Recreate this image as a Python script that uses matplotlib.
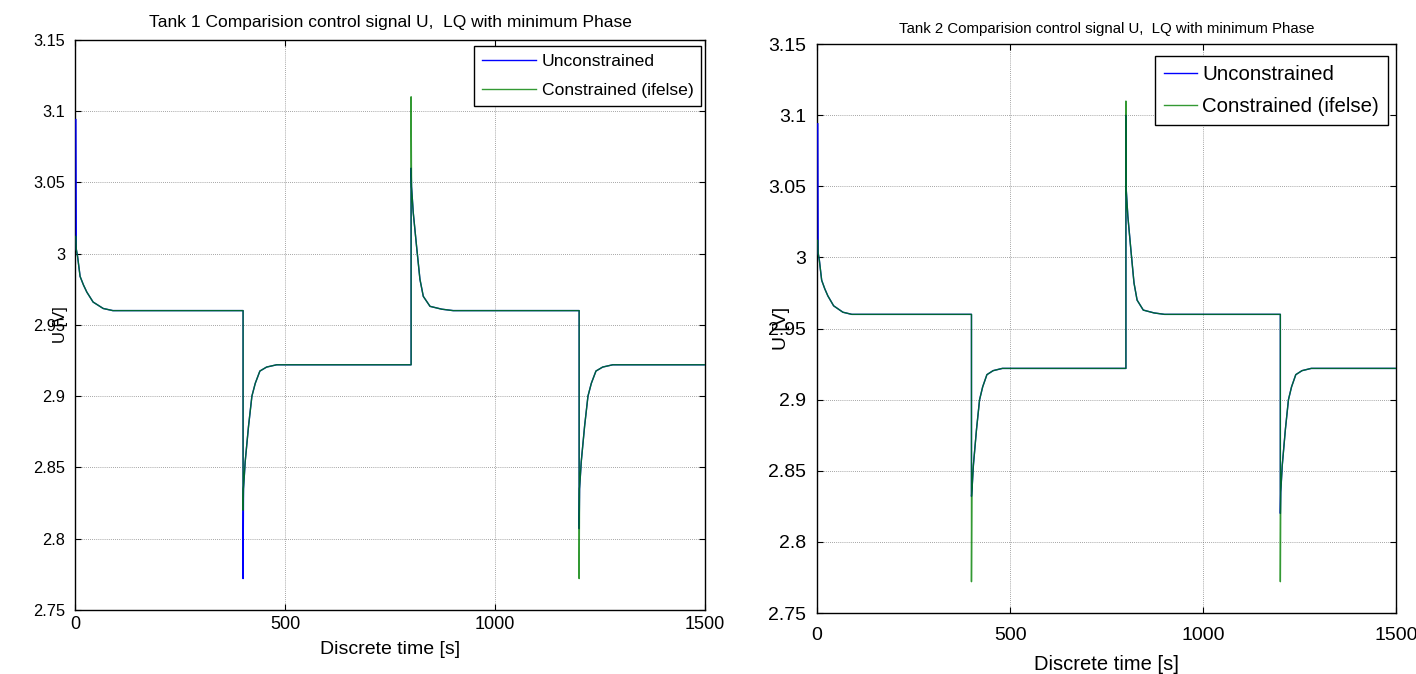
import matplotlib
matplotlib.use("Agg")
import matplotlib.pyplot as plt
import numpy as np

plt.rcParams['font.family'] = ['Liberation Sans', 'DejaVu Sans']

# ---- data ----
time = [2, 3, 6, 12, 20, 28, 43, 67, 90, 400,
        400, 401, 405, 413, 421, 429, 440, 456, 480, 800,
        800, 801, 805, 813, 821, 829, 845, 873, 900, 1200,
        1200, 1201, 1205, 1213, 1221, 1229, 1240, 1256, 1280, 1500]

base = [None, 3.003, 2.998, 2.984, 2.978, 2.973, 2.966, 2.9615, 2.960, 2.960,
        None, 2.835, 2.854, 2.879, 2.900, 2.909, 2.9176, 2.9204, 2.922, 2.922,
        None, 3.047, 3.029, 3.005, 2.982, 2.970, 2.963, 2.961, 2.960, 2.960,
        None, 2.835, 2.854, 2.879, 2.900, 2.909, 2.9176, 2.9204, 2.922, 2.922]

# spike values at t = 0, 400, 800, 1200
tank1_unc_spikes = [3.094, 2.772, 3.060, 2.807]
tank1_con_spikes = [3.012, 2.820, 3.110, 2.772]
tank2_unc_spikes = [3.094, 2.832, 3.100, 2.820]
tank2_con_spikes = [3.012, 2.772, 3.110, 2.772]

titles = ["Tank 1 Comparision control signal U,  LQ with minimum Phase",
          "Tank 2 Comparision control signal U,  LQ with minimum Phase"]
xlabel = "Discrete time [s]"
ylabel = "U [V]"
legend_labels = ["Unconstrained", "Constrained (ifelse)"]
xticks = [0, 500, 1000, 1500]
yticks = [2.75, 2.8, 2.85, 2.9, 2.95, 3.0, 3.05, 3.1, 3.15]
yticklabels = ["2.75", "2.8", "2.85", "2.9", "2.95", "3", "3.05", "3.1", "3.15"]


def fill(spikes):
    out = list(base)
    idx = [i for i, v in enumerate(out) if v is None]
    for i, s in zip(idx, spikes):
        out[i] = s
    return out


fig = plt.figure(figsize=(14.16, 6.74), dpi=100)
axes_pos = [[0.053, 0.095, 0.445, 0.846], [0.577, 0.0905, 0.409, 0.844]]
xtick_fs = [13.0, 14.0]
ytick_fs = [11.8, 14.0]
xtick_pad = [4, 10]
ytick_pad = [7, 8]
title_fs = [12.5, 10.8]
title_pad = [9, 8]
xlabel_fs = [14.0, 14.5]
xlabel_pad = [6, 8]
ylabel_fs = [12.0, 14.0]
ylabel_x = [-0.011, -0.047]
legend_fs = [12.6, 14.7]
legend_anchor = [(0.994, 0.989), (0.986, 0.98)]
legend_handlelen = [3.1, 1.6]
legend_textpad = [0.3, 0.25]
legend_spacing = [0.8, 0.65]
legend_borderpad = [0.45, 0.45]
series = [(tank1_unc_spikes, tank1_con_spikes), (tank2_unc_spikes, tank2_con_spikes)]

for k in range(2):
    ax = fig.add_axes(axes_pos[k])
    unc, con = series[k]
    ax.plot(time, fill(unc), color=(0, 0, 1), lw=1.0, label=legend_labels[0], zorder=3)
    ax.plot(time, fill(con), color=(0, 0.5, 0), lw=1.0, alpha=0.8, label=legend_labels[1], zorder=3)
    ax.set_xlim(0, 1500)
    ax.set_ylim(2.75, 3.15)
    ax.set_xticks(xticks)
    ax.set_yticks(yticks)
    ax.set_yticklabels(yticklabels)
    ax.tick_params(direction='in', top=True, right=True, length=4, width=0.8)
    ax.tick_params(axis='x', labelsize=xtick_fs[k], pad=xtick_pad[k])
    ax.tick_params(axis='y', labelsize=ytick_fs[k], pad=ytick_pad[k])
    ax.grid(True, color='#555555', linestyle=(0, (1, 1.5)), linewidth=0.6, alpha=0.7)
    for s in ax.spines.values():
        s.set_linewidth(1.0)
    ax.set_title(titles[k], fontsize=title_fs[k], pad=title_pad[k])
    ax.set_xlabel(xlabel, fontsize=xlabel_fs[k], labelpad=xlabel_pad[k])
    ax.set_ylabel(ylabel, fontsize=ylabel_fs[k])
    ax.yaxis.set_label_coords(ylabel_x[k], 0.5)
    leg = ax.legend(loc='upper right', bbox_to_anchor=legend_anchor[k], fontsize=legend_fs[k],
                    fancybox=False, framealpha=1, edgecolor='black',
                    handlelength=legend_handlelen[k], handletextpad=legend_textpad[k],
                    borderaxespad=0.0, labelspacing=legend_spacing[k],
                    borderpad=legend_borderpad[k])
    leg.get_frame().set_linewidth(1.0)
    leg.set_zorder(5)

fig.savefig("out.png", dpi=100)
